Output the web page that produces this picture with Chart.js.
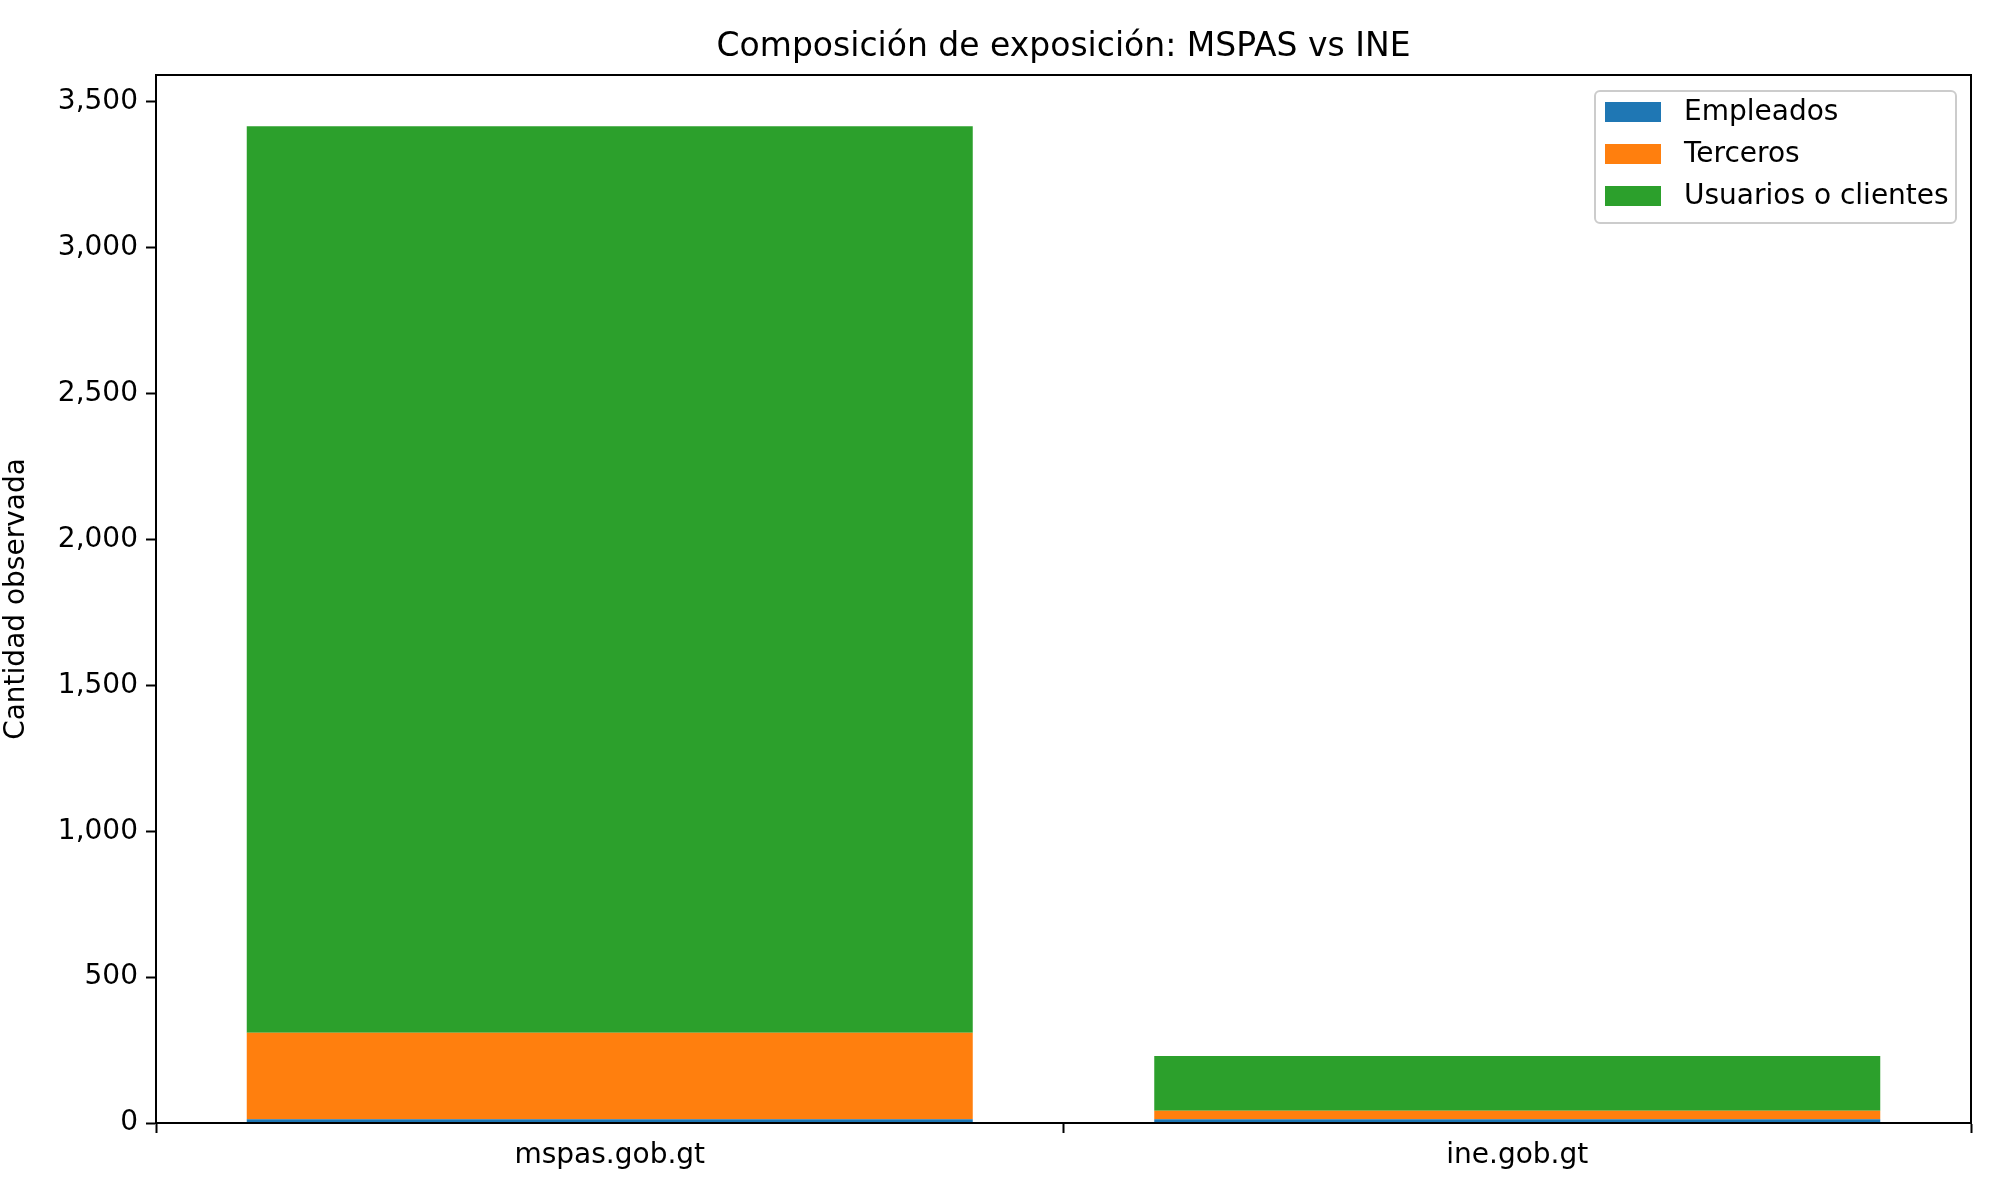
<!DOCTYPE html>
<html>
<head>
<meta charset="utf-8">
<script src="https://cdn.jsdelivr.net/npm/chart.js@4/dist/chart.umd.min.js"></script>
<style>
  html, body { margin: 0; padding: 0; background: #fff; }
  #wrap { width: 2000px; height: 1200px; }
</style>
</head>
<body>
<div id="wrap"><canvas id="chart" width="2000" height="1200"></canvas></div>
<script>
// Datos
const DOMINIOS = ["mspas.gob.gt", "ine.gob.gt"];
const EMPLEADOS = [13, 13];
const TERCEROS = [296, 29];
const USUARIOS = [3107, 188];
const Y_TICKS = [0, 500, 1000, 1500, 2000, 2500, 3000, 3500];

const FONT = "'DejaVu Sans', sans-serif";

// Marco, título y leyenda al estilo matplotlib
const decor = {
  id: "decor",
  afterDraw(chart) {
    const { ctx, chartArea: a } = chart;
    ctx.save();
    ctx.strokeStyle = "#000";
    ctx.lineWidth = 2;
    ctx.strokeRect(a.left, a.top, a.right - a.left, a.bottom - a.top);

    ctx.fillStyle = "#000";
    ctx.font = "33px " + FONT;
    ctx.textAlign = "center";
    ctx.textBaseline = "middle";
    ctx.fillText("Composición de exposición: MSPAS vs INE", (a.left + a.right) / 2, 47);

    // leyenda
    const bx = 1595, by = 91, bw = 361, bh = 132;
    ctx.fillStyle = "rgba(255,255,255,0.8)";
    ctx.strokeStyle = "#cccccc";
    ctx.lineWidth = 2;
    ctx.beginPath();
    ctx.roundRect(bx, by, bw, bh, 5);
    ctx.fill();
    ctx.stroke();
    ctx.font = "28px " + FONT;
    ctx.textAlign = "left";
    chart.data.datasets.forEach((ds, i) => {
      const y = 112 + i * 42;
      ctx.fillStyle = ds.backgroundColor;
      ctx.fillRect(1605, y - 10, 56, 20);
      ctx.fillStyle = "#000";
      ctx.fillText(ds.label, 1684, y + 1);
    });
    ctx.restore();
  },
};

new Chart(document.getElementById("chart"), {
  type: "bar",
  data: {
    labels: DOMINIOS,
    datasets: [
      { label: "Empleados", data: EMPLEADOS, backgroundColor: "#1f77b4" },
      { label: "Terceros", data: TERCEROS, backgroundColor: "#ff7f0e" },
      { label: "Usuarios o clientes", data: USUARIOS, backgroundColor: "#2ca02c" },
    ],
  },
  options: {
    responsive: false,
    animation: false,
    devicePixelRatio: 1,
    layout: { padding: { left: 0, right: 29, top: 75, bottom: 0 } },
    datasets: { bar: { barPercentage: 0.8, categoryPercentage: 1.0 } },
    plugins: { legend: { display: false }, title: { display: false }, tooltip: { enabled: false } },
    scales: {
      x: {
        stacked: true,
        afterFit: (s) => { s.height = 77; },
        grid: { display: true, drawOnChartArea: false, tickLength: 10, color: "#000", tickWidth: 2 },
        border: { color: "#000", width: 2 },
        ticks: { color: "#000", font: { family: FONT, size: 28 }, padding: 6 },
      },
      y: {
        stacked: true,
        min: 0,
        max: 3592,
        afterFit: (s) => { s.width = 156; },
        afterBuildTicks: (s) => { s.ticks = Y_TICKS.map((v) => ({ value: v })); },
        grid: { display: true, drawOnChartArea: false, tickLength: 10, color: "#000", tickWidth: 2 },
        border: { color: "#000", width: 2 },
        ticks: { color: "#000", font: { family: FONT, size: 28 }, padding: 8 },
        title: { display: true, text: "Cantidad observada", color: "#000", font: { family: FONT, size: 28 }, padding: 0 },
      },
    },
  },
  plugins: [decor],
});
</script>
</body>
</html>
